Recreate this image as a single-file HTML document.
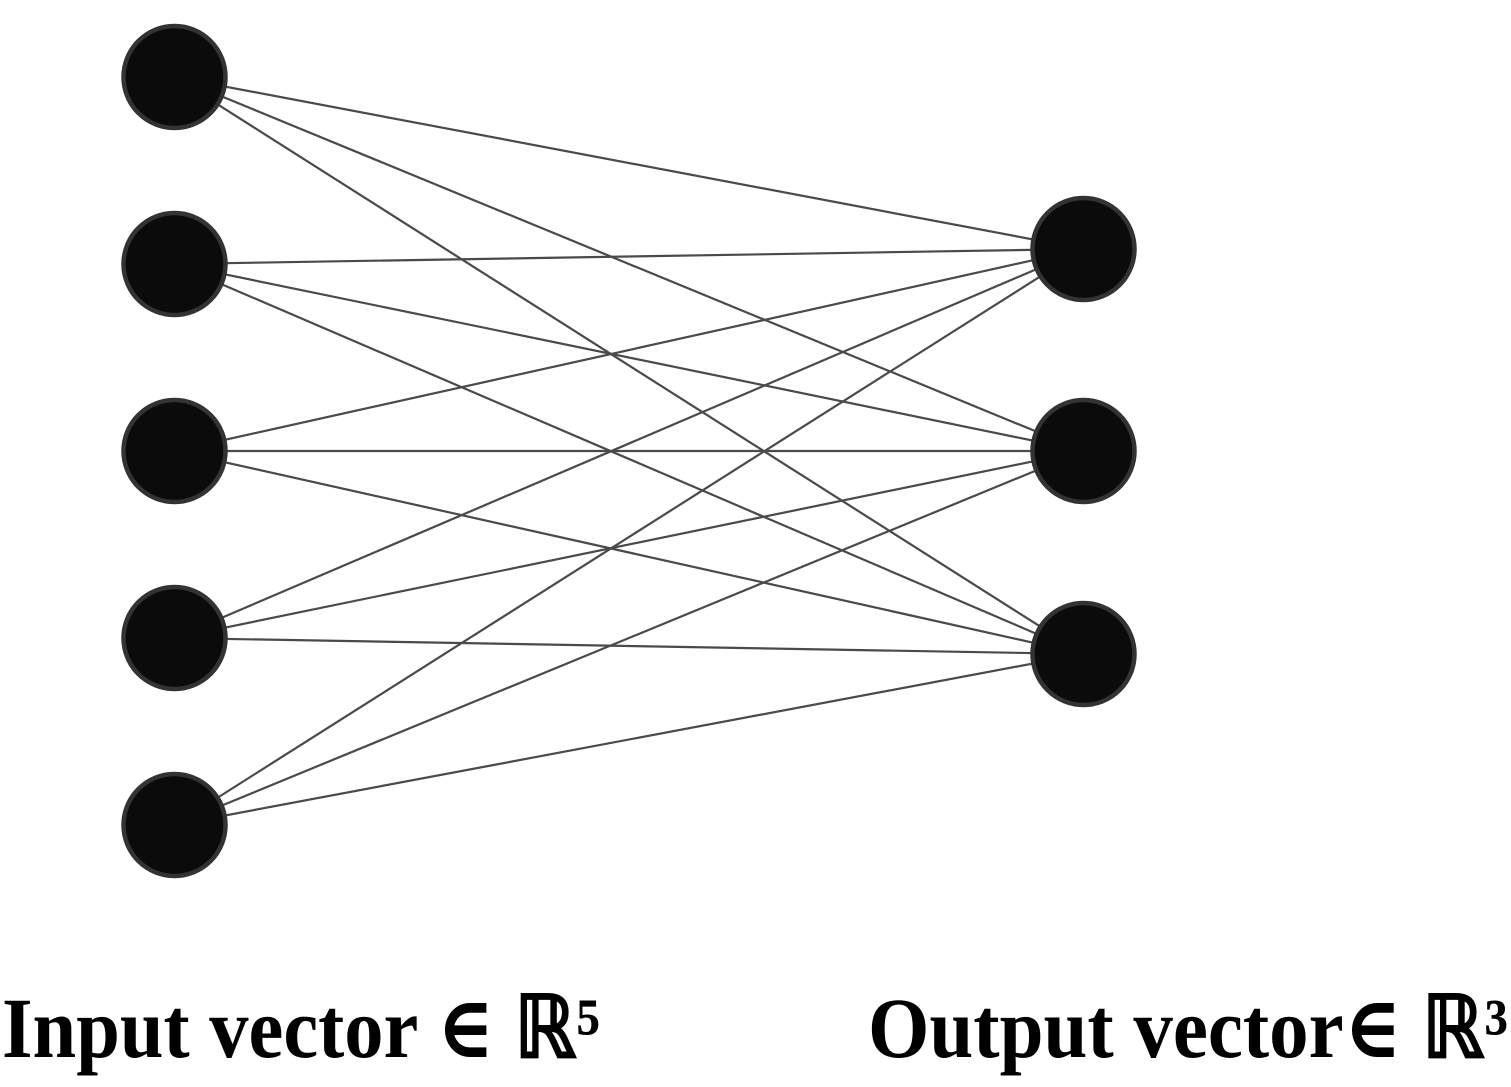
<!DOCTYPE html>
<html><head><meta charset="utf-8"><style>
html,body{margin:0;padding:0;background:#fff;width:1511px;height:1087px;overflow:hidden}
</style></head><body>
<svg id="chart" width="1511" height="1087" viewBox="0 0 1511 1087" xmlns="http://www.w3.org/2000/svg">
<g id="edges"></g>
<g id="nodes"></g>
<text x="2" y="1057" font-family="'Liberation Serif','DejaVu Serif',serif" font-weight="bold" font-size="86" textLength="598" lengthAdjust="spacingAndGlyphs">Input vector ∈ ℝ⁵</text>
<text x="868" y="1057" font-family="'Liberation Serif','DejaVu Serif',serif" font-weight="bold" font-size="86" textLength="640" lengthAdjust="spacingAndGlyphs">Output vector∈ ℝ³</text>
</svg>
<script>
const inputYs = [77, 264, 451, 638, 825];
const outputYs = [249, 451, 654];
const inputX = 174.5, outputX = 1083.5, radius = 51;
const NS = 'http://www.w3.org/2000/svg';
const edges = document.getElementById('edges');
const nodes = document.getElementById('nodes');
inputYs.forEach((iy, i) => {
  outputYs.forEach((oy, j) => {
    const l = document.createElementNS(NS, 'line');
    
    
    l.setAttribute('x1', inputX); l.setAttribute('y1', iy);
    l.setAttribute('x2', outputX); l.setAttribute('y2', oy);
    l.setAttribute('stroke', '#4a4a4a'); l.setAttribute('stroke-width', '2.2');
    edges.appendChild(l);
  });
});
function node(x, y, name) {
  const c = document.createElementNS(NS, 'circle');
  
  
  c.setAttribute('cx', x); c.setAttribute('cy', y); c.setAttribute('r', radius);
  c.setAttribute('fill', '#0b0b0b'); c.setAttribute('stroke', '#333');
  c.setAttribute('stroke-width', '4.5');
  nodes.appendChild(c);
}
inputYs.forEach((y, i) => node(inputX, y, 'input-node-' + (i+1)));
outputYs.forEach((y, i) => node(outputX, y, 'output-node-' + (i+1)));
</script>
</body></html>
